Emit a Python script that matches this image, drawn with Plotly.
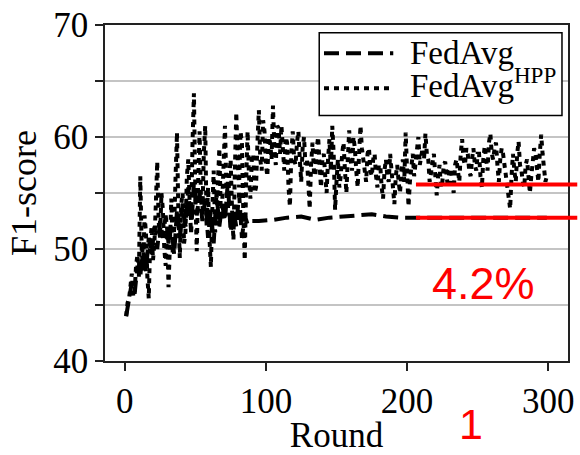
import plotly.graph_objects as go

# FedAvg^HPP: F1-score per round (1..299)
hpp_rounds = list(range(1, 300))
hpp_f1 = [
    44.0, 45.2, 45.5, 47.0, 47.8, 45.8, 46.2, 48.5, 49.5, 47.5,
    56.5, 50.0, 48.0, 53.0, 51.5, 47.5, 45.6, 50.5, 52.0, 49.0,
    50.5, 54.0, 57.8, 52.5, 51.0, 55.0, 53.5, 50.0, 48.5, 52.0,
    46.6, 50.5, 54.5, 49.5, 51.8, 56.5, 60.4, 53.0, 49.2, 54.0,
    55.0, 50.5, 51.5, 56.5, 58.0, 54.0, 52.5, 59.5, 63.9, 55.0,
    49.8, 56.0, 60.5, 54.5, 53.0, 58.5, 61.0, 52.0, 55.5, 51.0,
    48.4, 53.5, 57.0, 51.5, 52.5, 56.0, 59.0, 53.5, 54.0, 57.5,
    61.0, 55.5, 53.0, 56.5, 58.0, 53.5, 50.8, 57.0, 62.2, 58.0,
    55.5, 60.5, 59.5, 53.0, 49.0, 56.0, 60.5, 56.5, 54.5, 58.0,
    58.5, 55.0, 55.5, 59.5, 62.4, 58.0, 57.0, 61.5, 60.5, 57.5,
    56.5, 60.0, 59.5, 58.0, 62.8, 59.0, 57.5, 61.0, 60.8, 58.5,
    61.0, 59.0, 57.0, 60.0, 59.5, 55.5, 53.8, 58.5, 60.5, 58.0,
    57.5, 59.5, 60.5, 58.0, 56.0, 59.0, 60.0, 57.5, 58.0, 56.0,
    53.6, 57.5, 59.5, 57.0, 56.5, 59.0, 60.0, 57.5, 55.5, 58.0,
    58.5, 56.5, 55.0, 58.0, 59.8, 57.0, 61.0, 58.5, 53.5, 56.0,
    58.0, 55.5, 56.5, 58.5, 59.5, 57.0, 55.0, 58.0, 60.6, 58.0,
    57.0, 60.0, 59.0, 57.0, 55.5, 58.5, 61.0, 59.0, 58.0, 57.0,
    56.0, 58.5, 59.0, 57.0, 56.5, 58.0, 58.5, 56.5, 55.5, 57.5,
    57.5, 55.5, 54.5, 57.0, 58.0, 56.5, 56.0, 58.5, 57.0, 55.5,
    54.0, 56.5, 57.5, 56.0, 55.0, 57.0, 58.0, 56.0, 60.4, 57.0,
    53.8, 56.0, 57.5, 58.5, 56.5, 58.0, 59.0, 60.0, 57.5, 58.5,
    59.0, 58.0, 60.3, 58.5, 58.0, 56.0, 57.0, 58.0, 58.5, 56.5,
    54.8, 56.5, 57.5, 55.5, 56.0, 57.5, 57.8, 56.5, 55.5, 57.0,
    57.2, 56.0, 55.0, 57.5, 58.0, 57.0, 56.0, 58.5, 59.8, 58.0,
    57.5, 59.0, 58.5, 57.0, 56.5, 58.0, 59.0, 57.5, 57.0, 58.5,
    58.5, 56.5, 55.5, 58.0, 59.2, 58.0, 57.0, 59.5, 60.3, 58.5,
    58.0, 59.0, 59.5, 57.5, 56.0, 58.0, 59.0, 58.5, 57.5, 56.0,
    55.5, 54.5, 53.6, 56.5, 58.5, 57.0, 56.0, 58.5, 59.6, 57.5,
    57.0, 56.0, 55.5, 57.5, 58.0, 56.5, 55.0, 56.5, 57.5, 59.0,
    58.5, 57.0, 56.0, 58.5, 60.2, 58.5, 57.0, 56.0, 56.5,
]

# FedAvg: oscillating early phase, then a nearly flat plateau
fedavg_rounds = list(range(1, 90, 2)) + [95, 105, 115, 125, 135, 145, 155, 165,
                                         175, 185, 195, 205, 225, 250, 275, 299]
fedavg_f1 = [
    44.0, 45.8, 47.0, 46.0, 48.5, 47.5, 50.5, 48.0, 51.0, 49.5,
    52.0, 50.0, 52.5, 51.0, 53.0, 50.5, 52.0, 49.5, 53.5, 51.0,
    54.0, 52.0, 55.5, 51.5, 56.0, 53.0, 55.0, 52.5, 54.5, 51.0,
    53.5, 50.5, 55.0, 52.0, 54.0, 52.5, 56.0, 51.5, 53.5, 52.0,
    55.0, 51.0, 53.0, 52.2, 52.5,
    52.5, 52.6, 52.8, 52.9, 52.6, 52.8, 52.9, 53.0,
    53.1, 52.9, 52.8, 52.8, 52.8, 52.8, 52.8, 52.8,
]

x_ticks = [0, 100, 200, 300]
y_ticks = [40, 45, 50, 55, 60, 65, 70]
y_tick_text = ["40", "", "50", "", "60", "", "70"]

SERIF = "Liberation Serif, Times New Roman, serif"
SANS = "Liberation Sans, Arial, sans-serif"
DASH = "15px,7px"
DOT = "5px,5px"

fig = go.Figure()
fig.add_trace(go.Scatter(
    x=fedavg_rounds, y=fedavg_f1, mode="lines", name="FedAvg",
    line=dict(color="black", width=4, dash=DASH),
))
fig.add_trace(go.Scatter(
    x=hpp_rounds, y=hpp_f1, mode="lines", name="FedAvg<sup>HPP</sup>",
    line=dict(color="black", width=4, dash=DOT),
))

# hand-built legend box
lx0, lx1, ly0, ly1 = 0.4627, 0.987, 0.7304, 0.9768
shapes = [
    dict(type="rect", xref="paper", yref="paper", x0=lx0, x1=lx1, y0=ly0, y1=ly1,
         line=dict(color="black", width=1.5), fillcolor="white", layer="above"),
    dict(type="line", xref="paper", yref="paper", x0=0.473, x1=0.6226, y0=0.916, y1=0.916,
         line=dict(color="black", width=4, dash=DASH), layer="above"),
    dict(type="line", xref="paper", yref="paper", x0=0.473, x1=0.6226, y0=0.8116, y1=0.8116,
         line=dict(color="black", width=4, dash=DOT), layer="above"),
    # red reference levels
    dict(type="line", xref="paper", yref="y", x0=0.6716, x1=1.02, y0=55.75, y1=55.75,
         line=dict(color="#ff0000", width=4), layer="above"),
    dict(type="line", xref="paper", yref="y", x0=0.6716, x1=1.02, y0=52.8, y1=52.8,
         line=dict(color="#ff0000", width=4), layer="above"),
]

annotations = [
    dict(xref="paper", yref="paper", x=0.6546, y=0.916, xanchor="left", yanchor="middle",
         text="FedAvg", showarrow=False, font=dict(family=SERIF, size=33, color="black")),
    dict(xref="paper", yref="paper", x=0.6546, y=0.826, xanchor="left", yanchor="middle",
         text="FedAvg<sup>HPP</sup>", showarrow=False,
         font=dict(family=SERIF, size=33, color="black")),
    dict(xref="paper", yref="y", x=0.818, y=46.95, xanchor="center", yanchor="middle",
         text="4.2%", showarrow=False, font=dict(family=SANS, size=45, color="#ff0000")),
    dict(xref="paper", yref="paper", x=0.791, y=-0.188, xanchor="center", yanchor="middle",
         text="1", showarrow=False, font=dict(family=SANS, size=43, color="#ff0000")),
]

fig.update_layout(
    width=580, height=455,
    margin=dict(l=105, r=6, t=23, b=87),
    paper_bgcolor="white", plot_bgcolor="white",
    showlegend=False,
    shapes=shapes, annotations=annotations,
    font=dict(family=SERIF, size=35, color="black"),
)
fig.update_xaxes(
    range=[-14, 314], tickvals=x_ticks, ticks="outside", ticklen=8, tickwidth=1.5,
    tickcolor="#222", showline=True, linecolor="#222", linewidth=1.5, mirror=True,
    showgrid=False, zeroline=False,
    title=dict(text="Round", font=dict(family=SERIF, size=35), standoff=4),
    tickfont=dict(family=SERIF, size=35),
)
fig.update_yaxes(
    range=[40, 70], tickvals=y_ticks, ticktext=y_tick_text, ticks="outside", ticklen=8,
    tickwidth=1.5, tickcolor="#222", showline=True, linecolor="#222", linewidth=1.5,
    mirror=True, showgrid=True, gridcolor="#c4c4c4", gridwidth=2, zeroline=False,
    title=dict(text="F1-score", font=dict(family=SERIF, size=36), standoff=6),
    tickfont=dict(family=SERIF, size=35),
)

fig.write_html("out.html")
